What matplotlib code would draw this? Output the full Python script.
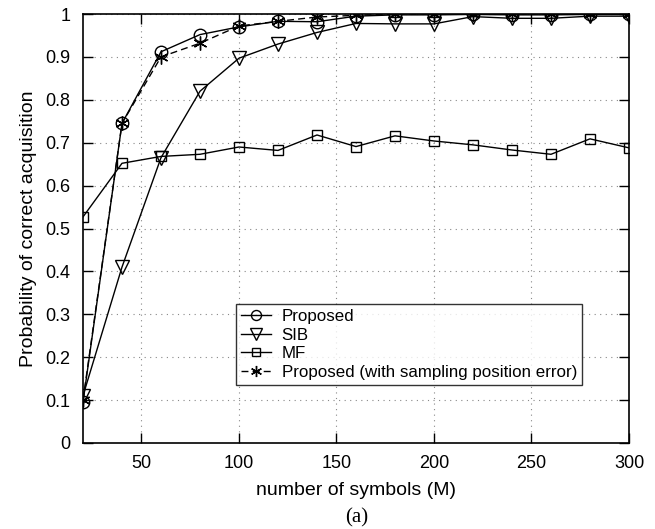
import numpy as np
import matplotlib.pyplot as plt

plt.rcParams['font.family'] = ['Liberation Sans', 'DejaVu Sans']

# Data
M = [20, 40, 60, 80, 100, 120, 140, 160, 180, 200, 220, 240, 260, 280, 300]
proposed = [0.095, 0.745, 0.912, 0.952, 0.970, 0.983, 0.982, 0.995, 0.998, 0.998,
            0.999, 0.998, 0.998, 0.999, 0.999]
sib = [0.11, 0.41, 0.665, 0.82, 0.897, 0.93, 0.957, 0.978, 0.977, 0.977,
       0.994, 0.99, 0.99, 0.995, 0.995]
mf = [0.527, 0.652, 0.668, 0.673, 0.690, 0.682, 0.718, 0.691, 0.716, 0.704,
      0.695, 0.683, 0.673, 0.709, 0.688]
proposed_err = [0.100, 0.745, 0.900, 0.932, 0.972, 0.983, 0.993, 0.997, 1.0, 1.0,
                1.0, 1.0, 1.0, 1.0, 1.0]

xticks = [50, 100, 150, 200, 250, 300]
yticks = [0, 0.1, 0.2, 0.3, 0.4, 0.5, 0.6, 0.7, 0.8, 0.9, 1]
ytick_labels = ['0', '0.1', '0.2', '0.3', '0.4', '0.5', '0.6', '0.7', '0.8', '0.9', '1']

fig = plt.figure(figsize=(6.55, 5.29), dpi=100)
ax = fig.add_axes([0.1267, 0.1626, 0.8336, 0.8109])

ax.plot(M, proposed, color='black', lw=1, marker='o', ms=9, mfc='none',
        mec='black', mew=1, label='Proposed')
ax.plot(M, sib, color='black', lw=1, marker='v', ms=10, mfc='none',
        mec='black', mew=1, label='SIB')
ax.plot(M, mf, color='black', lw=1, marker='s', ms=7.5, mfc='none',
        mec='black', mew=1, label='MF')
ax.plot(M, proposed_err, color='black', lw=1, ls=(0, (5, 3)), marker=(6, 2, 0),
        ms=10, mec='black', mew=1,
        label='Proposed (with sampling position error)')

ax.set_xlim(20, 300)
ax.set_ylim(0, 1)
ax.set_xticks(xticks)
ax.set_yticks(yticks)
ax.set_yticklabels(ytick_labels)
ax.tick_params(direction='in', length=7, width=1, top=True, right=True,
               labelsize=13, pad=9)
ax.grid(True, color='#888888', ls=(0, (1, 4)), lw=0.8)
for s in ax.spines.values():
    s.set_linewidth(1.2)

ax.set_xlabel('number of symbols (M)', fontsize=14, labelpad=7)
ax.set_ylabel('Probability of correct acquisition', fontsize=14, labelpad=6)

leg = ax.legend(loc='lower left', bbox_to_anchor=(0.280, 0.135), fontsize=12.2,
                frameon=True, fancybox=False, edgecolor='black',
                borderpad=0.3, labelspacing=0.22, handlelength=1.8,
                handletextpad=0.6, borderaxespad=0, markerscale=0.8)
leg.get_frame().set_linewidth(1)

fig.text(0.545, 0.022, '(a)', fontsize=15, family='Liberation Serif',
         ha='center', va='center')

fig.savefig('out.png', dpi=100)
